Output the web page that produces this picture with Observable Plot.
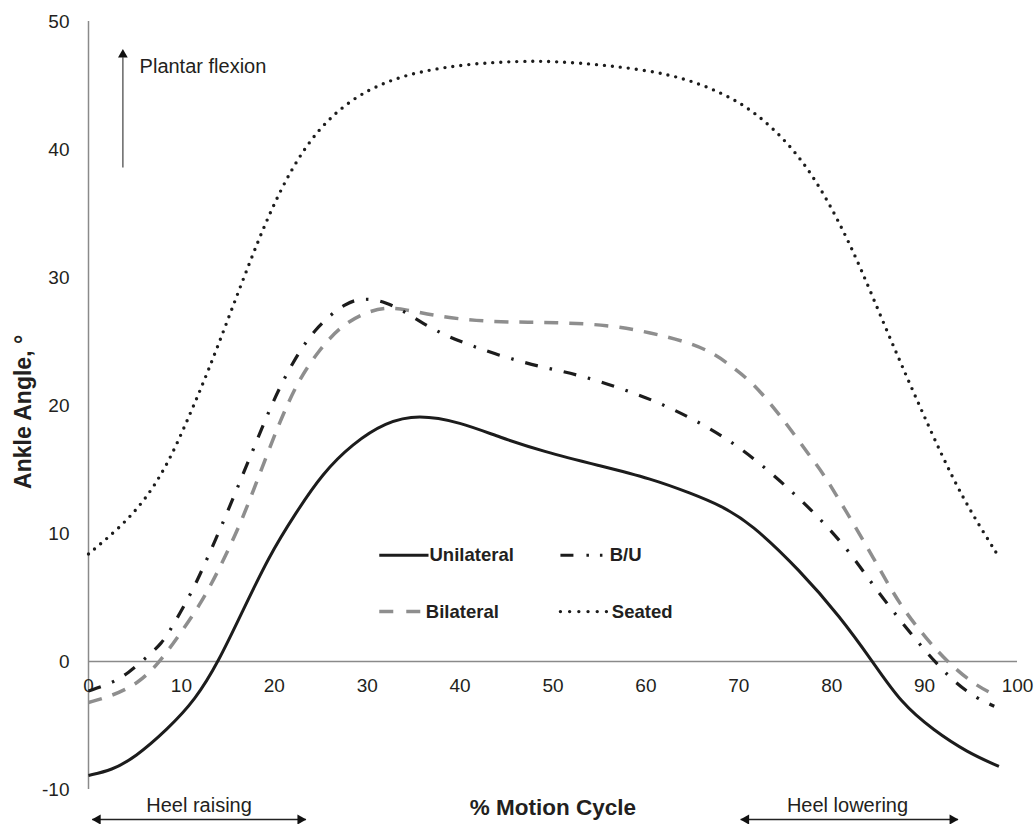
<!DOCTYPE html>
<html>
<head>
<meta charset="utf-8">
<script src="https://cdn.jsdelivr.net/npm/d3@7"></script>
<script src="https://cdn.jsdelivr.net/npm/@observablehq/plot@0.6"></script>
<style>
  html, body { margin: 0; padding: 0; background: #fff; }
  #chart svg { display: block; }
</style>
</head>
<body>
<div id="chart"></div>
<script>
// ---- Data ----
const unilateralX = [0, 2.5, 5, 8.5, 11.5, 14, 16.5, 19.4, 22.3, 25.2, 28.4, 32, 35.5, 40, 44.3, 49, 55, 60.5, 65, 68, 71.3, 76.6, 80.9, 84.4, 87.4, 91, 94.6, 98];
const unilateralY = [-8.9, -8.5, -7.5, -5.3, -3.0, 0, 3.8, 8.2, 11.6, 14.7, 17.0, 18.7, 19.3, 18.7, 17.5, 16.4, 15.3, 14.3, 13.1, 12.2, 10.8, 7.1, 3.5, 0, -3.2, -5.4, -7.1, -8.2];

const buX = [0, 2.5, 4.3, 6.2, 7.9, 9, 11.2, 13, 14.8, 16.5, 18.2, 19.9, 21.9, 24.3, 27.7, 29.8, 32, 34.1, 36, 38.1, 40, 44.2, 48.7, 52.8, 57.1, 61.2, 65.2, 69, 72.6, 76, 79.1, 82, 84.7, 87.5, 90.3, 93.3, 95.7, 97.5];
const buY = [-2.3, -1.7, -0.9, 0.3, 1.4, 2.7, 5.5, 8.4, 11.4, 14.4, 17.4, 20.4, 23.3, 26.0, 28.1, 28.4, 28.1, 27.3, 26.4, 25.6, 25.0, 23.9, 23.0, 22.4, 21.4, 20.3, 18.9, 17.3, 15.3, 13.1, 10.9, 8.5, 5.7, 3.1, 0.6, -1.7, -2.9, -3.5];

const bilateralX = [0, 2.5, 5.4, 7.6, 9.4, 12.2, 14.4, 16.5, 18.3, 20.5, 22.6, 24.8, 27, 29.5, 32, 34.1, 37.4, 41.7, 46.3, 50, 56, 60.5, 64.8, 67.5, 69.5, 71.6, 73.8, 75.2, 77.7, 79, 81.5, 84.5, 87.4, 90.3, 92.4, 95.3, 97.8];
const bilateralY = [-3.2, -2.7, -1.7, -0.1, 1.7, 4.6, 7.7, 11.0, 14.4, 18.6, 22.0, 24.3, 26.1, 27.2, 27.7, 27.5, 27.0, 26.6, 26.5, 26.5, 26.3, 25.7, 24.9, 24.0, 22.9, 21.7, 19.8, 18.5, 16.0, 14.8, 11.8, 8.1, 4.3, 1.7, 0, -1.8, -2.7];

const seatedX = [0, 3.3, 6.1, 8.6, 10.8, 12.9, 15.1, 17.3, 19.4, 21.9, 24.8, 28.4, 32, 35.6, 40.9, 46.3, 50, 55.8, 63, 68.4, 72, 75.6, 78.4, 80.9, 83.1, 85.6, 88.1, 90.6, 93.1, 95.3, 97.8];
const seatedY = [8.4, 10.4, 12.6, 15.5, 19.1, 22.7, 26.9, 31.1, 34.9, 38.6, 41.7, 44.0, 45.3, 46.1, 46.7, 46.9, 46.9, 46.6, 45.9, 44.4, 42.8, 40.3, 37.5, 34.2, 30.8, 26.4, 22.2, 18.1, 14.2, 11.3, 8.4];

const xTicks = [0, 10, 20, 30, 40, 50, 60, 70, 80, 90, 100];
const yTicks = [-10, 0, 10, 20, 30, 40, 50];
const seriesNames = ["Unilateral", "B/U", "Bilateral", "Seated"];

// ---- Build tables ----
const toRows = (xs, ys) => xs.map((x, i) => ({x, y: ys[i]}));
const unilateral = toRows(unilateralX, unilateralY);
const bu = toRows(buX, buY);
const bilateral = toRows(bilateralX, bilateralY);
const seated = toRows(seatedX, seatedY);

const FONT = "'Liberation Sans', Arial, Helvetica, sans-serif";
const BLACK = "#1c1c1c";
const GREY = "#8e8e8e";
const AXIS = "#8a8a8a";
const TXT = "#231f20";
const CURVE = "basis";

const styles = {
  "Unilateral": {stroke: BLACK, strokeWidth: 3, strokeLinecap: "butt"},
  "B/U": {stroke: BLACK, strokeWidth: 3.2, strokeDasharray: "13,12,2.5,12", strokeLinecap: "butt"},
  "Bilateral": {stroke: GREY, strokeWidth: 3.5, strokeDasharray: "14,11", strokeLinecap: "butt"},
  "Seated": {stroke: BLACK, strokeWidth: 3.4, strokeDasharray: "0,8", strokeLinecap: "round"}
};

// legend layout (data coordinates)
const legendItems = [
  {name: seriesNames[0], x1: 31.3, x2: 36.6, y: 8.3, dash: null},
  {name: seriesNames[1], x1: 50.8, x2: 56.0, y: 8.3, dash: "13,13,2.5,11,2.5,60"},
  {name: seriesNames[2], x1: 31.3, x2: 36.2, y: 3.9, dash: "14,13"},
  {name: seriesNames[3], x1: 50.8, x2: 55.9, y: 3.9, dash: "0,9.2"}
];

const marks = [
  // axes lines
  Plot.ruleX([0], {y1: -10, y2: 50, stroke: AXIS, strokeWidth: 1.5}),
  Plot.ruleY([0], {x1: 0, x2: 100, stroke: AXIS, strokeWidth: 1.5}),
  // tick labels
  Plot.text(yTicks, {x: 0, y: d => d, text: d => String(d), textAnchor: "end", dx: -19, fontSize: 19, fill: TXT}),
  Plot.text(xTicks, {x: d => d, y: 0, text: d => String(d), dy: 24, fontSize: 19, fill: TXT}),
  // series lines
  Plot.line(seated, {x: "x", y: "y", curve: CURVE, ...styles["Seated"]}),
  Plot.line(bilateral, {x: "x", y: "y", curve: CURVE, ...styles["Bilateral"]}),
  Plot.line(bu, {x: "x", y: "y", curve: CURVE, ...styles["B/U"]}),
  Plot.line(unilateral, {x: "x", y: "y", curve: CURVE, ...styles["Unilateral"]}),
];

// legend swatches and labels
for (const it of legendItems) {
  const s = styles[it.name];
  marks.push(Plot.link([it], {
    x1: "x1", x2: "x2", y1: "y", y2: "y",
    stroke: s.stroke, strokeWidth: s.strokeWidth,
    strokeDasharray: it.dash ?? undefined,
    strokeLinecap: s.strokeLinecap
  }));
  marks.push(Plot.text([it], {
    x: "x2", y: "y", text: "name", textAnchor: "start", dx: it.name === "Seated" ? 4 : 1,
    fontSize: 18.5, fontWeight: "bold", fill: TXT
  }));
}

// Plantar flexion annotation
marks.push(
  Plot.link([{x: 3.7, y1: 38.6, y2: 47.2}], {x1: "x", x2: "x", y1: "y1", y2: "y2", stroke: "#666", strokeWidth: 1.5}),
  Plot.dot([{x: 3.7, y: 47.83}], {x: "x", y: "y", symbol: "triangle", r: 3.6, fill: "#111", stroke: "none", dy: 5.4}),
  Plot.text(["Plantar flexion"], {x: 5.5, y: 46.5, text: d => d, textAnchor: "start", fontSize: 20, fill: TXT})
);

// bottom annotations (below the frame)
const spans = [
  {label: "Heel raising", x1: 0.4, x2: 23.4, cx: 11.9},
  {label: "Heel lowering", x1: 70.2, x2: 93.6, cx: 81.7}
];
for (const s of spans) {
  marks.push(
    Plot.link([s], {x1: "x1", x2: "x2", y1: -10, y2: -10, dy: 30, stroke: "#222", strokeWidth: 1.5}),
    Plot.dot([s], {x: "x1", y: -10, dy: 30, dx: 5.5, symbol: "triangle", r: 3.8, rotate: -90, fill: "#111", stroke: "none"}),
    Plot.dot([s], {x: "x2", y: -10, dy: 30, dx: -5.5, symbol: "triangle", r: 3.8, rotate: 90, fill: "#111", stroke: "none"}),
    Plot.text([s], {x: "cx", y: -10, dy: 16, text: "label", fontSize: 20, fill: TXT})
  );
}

// axis titles
marks.push(
  Plot.text(["% Motion Cycle"], {x: 50, y: -10, dy: 18, text: d => d, fontSize: 22.5, fontWeight: "bold", fill: TXT}),
  Plot.text(["Ankle Angle, °"], {x: 0, y: 19.5, dx: -65, text: d => d, rotate: -90, fontSize: 23, fontWeight: "bold", fill: TXT})
);

const chart = Plot.plot({
  width: 1035,
  height: 824,
  marginLeft: 88,
  marginRight: 18,
  marginTop: 21,
  marginBottom: 35,
  x: {domain: [0, 100], axis: null},
  y: {domain: [-10, 50], axis: null},
  clip: false,
  style: {fontFamily: FONT, background: "#fff", overflow: "visible"},
  marks
});
document.getElementById("chart").appendChild(chart);
</script>
</body>
</html>
